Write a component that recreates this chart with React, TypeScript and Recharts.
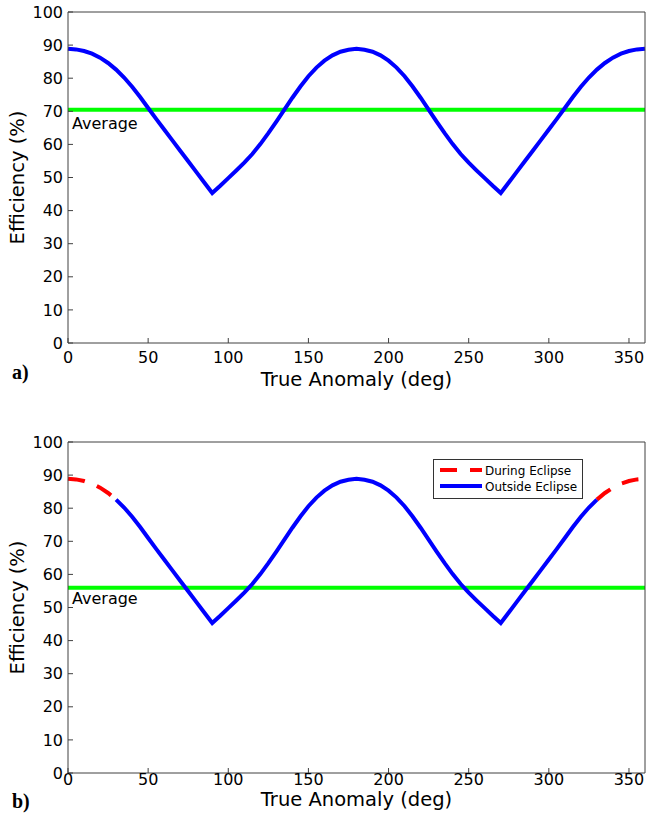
import React from 'react';
import { LineChart, Line, XAxis, YAxis, ReferenceLine, Legend } from 'recharts';

// true anomaly samples (deg) and efficiency (%)
const anomalyDeg = [
  0, 5, 10, 15, 20, 25, 30, 35, 40, 45, 50, 55, 60, 65, 70, 75, 80, 85, 90,
  95, 100, 105, 110, 115, 120, 125, 130, 135, 140, 145, 150, 155, 160, 165, 170, 175, 180,
  185, 190, 195, 200, 205, 210, 215, 220, 225, 230, 235, 240, 245, 250, 255, 260, 265, 270,
  275, 280, 285, 290, 295, 300, 305, 310, 315, 320, 325, 330, 335, 340, 345, 350, 355, 360,
];
const efficiencyPct = [
  88.9, 88.7, 88.2, 87.4, 86.2, 84.6, 82.6, 80.2, 77.4, 74.3, 71.0, 67.7, 64.5, 61.3, 58.1, 54.9, 51.7, 48.5, 45.3,
  47.5, 49.8, 52.1, 54.5, 57.1, 60.1, 63.4, 66.9, 70.5, 74.1, 77.5, 80.6, 83.2, 85.3, 86.9, 88.0, 88.6, 88.9,
  88.6, 88.0, 86.9, 85.3, 83.2, 80.6, 77.5, 74.1, 70.5, 66.9, 63.4, 60.1, 57.1, 54.5, 52.1, 49.8, 47.5, 45.3,
  48.5, 51.7, 54.9, 58.1, 61.3, 64.5, 67.7, 71.0, 74.3, 77.4, 80.2, 82.6, 84.6, 86.2, 87.4, 88.2, 88.7, 88.9,
];
const xTicks = [0, 50, 100, 150, 200, 250, 300, 350];
const yTicks = [0, 10, 20, 30, 40, 50, 60, 70, 80, 90, 100];
const averageA = 70.5;
const averageB = 56;
const eclipseEnd = 30;
const eclipseStart = 330;

const W = 648;
const FONT = '"DejaVu Sans", sans-serif';
const FRAME = '#404040';

const dataA = anomalyDeg.map((deg, i) => ({ deg, eff: efficiencyPct[i] }));
const dataB = anomalyDeg.map((deg, i) => ({
  deg,
  eclipse: deg <= eclipseEnd || deg >= eclipseStart ? efficiencyPct[i] : null,
  sunlit: deg >= eclipseEnd && deg <= eclipseStart ? efficiencyPct[i] : null,
}));

const XTitle = (props: any) => {
  const vb = props.viewBox || { x: 68, y: 343, width: 577, height: 30 };
  return (
    <g>
      <text x={vb.x + vb.width / 2} y={vb.y + props.titleDy} textAnchor="middle"
        fontFamily={FONT} fontSize={19.5} fill="#000">True Anomaly (deg)</text>
      <text x={12} y={vb.y + props.tagDy} fontFamily='"Liberation Serif", serif'
        fontWeight="bold" fontSize={20} fill="#000">{props.tag}</text>
    </g>
  );
};

const YTitle = (props: any) => {
  const vb = props.viewBox || { x: 28, y: 12, width: 40, height: 331 };
  const cy = vb.y + vb.height / 2;
  return (
    <text x={24} y={cy} transform={`rotate(-90, 24, ${cy})`} textAnchor="middle"
      fontFamily={FONT} fontSize={19.5} fill="#000">Efficiency (%)</text>
  );
};

const AvgLabel = (props: any) => {
  const vb = props.viewBox || { x: 68, y: 0 };
  return (
    <text x={vb.x + 4} y={vb.y + props.dy} fontFamily={FONT} fontSize={16} fill="#000">Average</text>
  );
};

const EclipseLegend = (props: any) => {
  const items = props.payload || [];
  return (
    <svg width={150} height={40} style={{ display: 'block' }}>
      <rect x={0.5} y={0.5} width={149} height={39} fill="#fff" stroke="#333" />
      {items.map((it: any, i: number) => (
        <g key={it.value}>
          <line x1={7} x2={49} y1={11 + i * 16} y2={11 + i * 16} stroke={it.color} strokeWidth={4}
            strokeDasharray={it.payload && it.payload.strokeDasharray} />
          <text x={52} y={16 + i * 16} fontFamily={FONT} fontSize={12} fill="#000">{it.value}</text>
        </g>
      ))}
    </svg>
  );
};

const tickStyle = { fill: '#000', fontSize: 16, fontFamily: FONT };

const Panel = (props: any) => {
  const { data, height, average, avgDy, tag, tickGap, titleDy, tagDy, children } = props;
  return (
    <LineChart width={W} height={height} data={data}
      margin={{ top: 11, right: 2, bottom: height - 373, left: 28 }}>
      <XAxis dataKey="deg" type="number" domain={[0, 360]} ticks={xTicks} interval={0}
        height={30} stroke={FRAME} tickSize={-5} tickMargin={tickGap} tick={tickStyle}
        label={<XTitle tag={tag} titleDy={titleDy} tagDy={tagDy} />} />
      <XAxis xAxisId="top" orientation="top" dataKey="deg" type="number" domain={[0, 360]}
        ticks={xTicks} interval={0} height={1} stroke={FRAME} tickSize={-5} tick={false} />
      <YAxis domain={[0, 100]} ticks={yTicks} interval={0} width={40} stroke={FRAME}
        tickSize={-5} tickMargin={10} tick={tickStyle} label={<YTitle />} />
      <YAxis yAxisId="right" orientation="right" domain={[0, 100]} ticks={yTicks} interval={0}
        width={1} stroke={FRAME} tickSize={-5} tick={false} />
      <ReferenceLine y={average} stroke="#00ff00" strokeWidth={4} label={<AvgLabel dy={avgDy} />} />
      {children}
    </LineChart>
  );
};

export default function App() {
  return (
    <div style={{ position: 'absolute', left: 0, top: 0, width: W, height: 821, background: '#fff' }}>
      <div style={{ position: 'absolute', left: 0, top: 0 }}>
        <Panel data={dataA} height={420} average={averageA} avgDy={19.5} tag="a)"
          tickGap={14} titleDy={43} tagDy={36}>
          <Line type="linear" dataKey="eff" stroke="#0000ff" strokeWidth={4} dot={false}
            activeDot={false} isAnimationActive={false} />
        </Panel>
      </div>
      <div style={{ position: 'absolute', left: 0, top: 430 }}>
        <Panel data={dataB} height={391} average={averageB} avgDy={16} tag="b)"
          tickGap={6} titleDy={33} tagDy={35.3}>
          <Line type="linear" dataKey="eclipse" name="During Eclipse" stroke="#ff0000" strokeWidth={4}
            strokeDasharray="17 13" dot={false} activeDot={false} connectNulls={false}
            isAnimationActive={false} />
          <Line type="linear" dataKey="sunlit" name="Outside Eclipse" stroke="#0000ff" strokeWidth={4}
            dot={false} activeDot={false} connectNulls={false} isAnimationActive={false} />
          <Legend layout="horizontal" verticalAlign="middle" align="center" content={<EclipseLegend />}
            wrapperStyle={{ position: 'absolute', left: 433, top: 29, width: 150, height: 40 }} />
        </Panel>
      </div>
    </div>
  );
}
